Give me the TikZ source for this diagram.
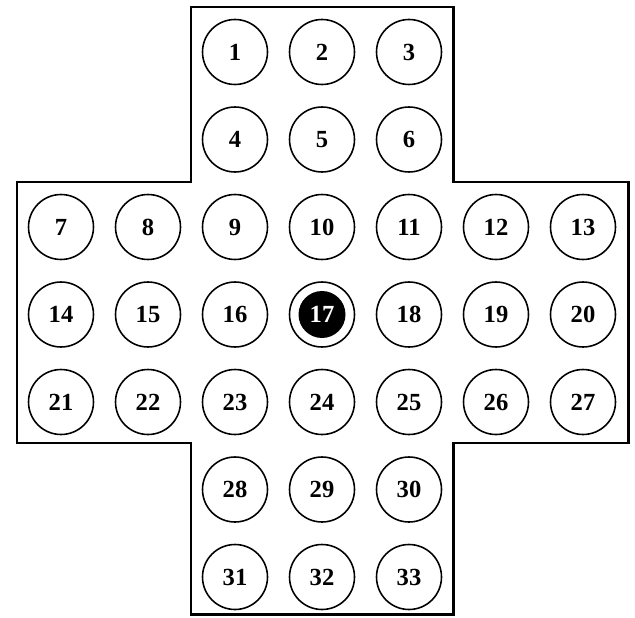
\documentclass[tikz,border=0pt]{standalone}
\usepackage{fontspec}
\setmainfont{Liberation Serif}
\usetikzlibrary{positioning}
\tikzset{
  hole/.style={circle,draw,line width=0.9pt,minimum size=1.3cm,inner sep=0pt,font=\fontsize{14}{16}\selectfont\bfseries},
  peg/.style={text=white,path picture={\fill (path picture bounding box.center) circle (0.47cm);}},
  board/.style={line width=1.7pt,line join=miter}
}
\begin{document}
\begin{tikzpicture}[x=0.02cm,y=-0.02cm]
\useasboundingbox (0,0) rectangle (635,618);
% outline of the cross-shaped board
\draw[board] (191,7) -- (453,7) -- (453,182) -- (628,182) -- (628,443) -- (453,443)
  -- (453,614) -- (191,614) -- (191,443) -- (17,443) -- (17,182) -- (191,182) -- cycle;
% holes: number/column/row
\foreach \n/\c/\r in {1/2/0,2/3/0,3/4/0,4/2/1,5/3/1,6/4/1,
  7/0/2,8/1/2,9/2/2,10/3/2,11/4/2,12/5/2,13/6/2,
  14/0/3,15/1/3,16/2/3,18/4/3,19/5/3,20/6/3,
  21/0/4,22/1/4,23/2/4,24/3/4,25/4/4,26/5/4,27/6/4,
  28/2/5,29/3/5,30/4/5,31/2/6,32/3/6,33/4/6}
  \node[hole] (h\n) at (61+87*\c,52+87.5*\r) {\n};
% the one filled hole
\node[hole,peg] (h17) at (61+87*3,52+87.5*3) {17};
\end{tikzpicture}
\end{document}
